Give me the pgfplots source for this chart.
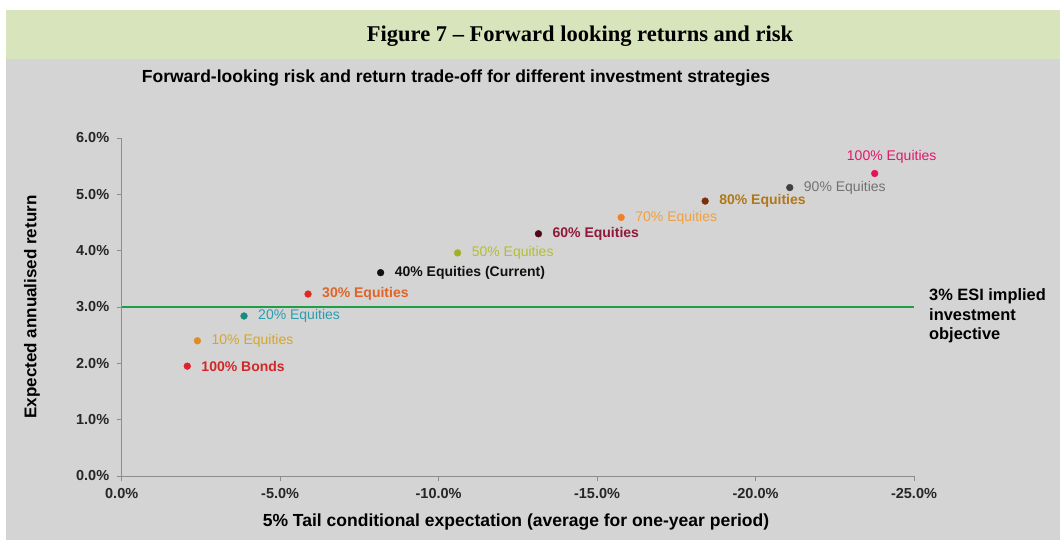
\documentclass[border=0pt]{standalone}
\usepackage{pgfplots}
\pgfplotsset{compat=1.18}
\usepackage{fontspec}
\setmainfont{Liberation Serif}
\setsansfont{Liberation Sans}
\definecolor{titlegreen}{HTML}{D8E4BC}
\definecolor{panelgrey}{HTML}{D4D4D4}
\definecolor{axisgrey}{HTML}{8C8C8C}
\definecolor{esigreen}{HTML}{1E9E46}
\definecolor{dBonds}{HTML}{E0202A}\definecolor{lBonds}{HTML}{D02828}
\definecolor{dTen}{HTML}{E08C20}\definecolor{lTen}{HTML}{D4A62A}
\definecolor{dTwenty}{HTML}{1A8A80}\definecolor{lTwenty}{HTML}{2A9EB0}
\definecolor{dThirty}{HTML}{E02A20}\definecolor{lThirty}{HTML}{E06428}
\definecolor{dForty}{HTML}{101010}\definecolor{lForty}{HTML}{101010}
\definecolor{dFifty}{HTML}{A0B020}\definecolor{lFifty}{HTML}{B4BE34}
\definecolor{dSixty}{HTML}{500818}\definecolor{lSixty}{HTML}{901838}
\definecolor{dSeventy}{HTML}{F08028}\definecolor{lSeventy}{HTML}{F0A040}
\definecolor{dEighty}{HTML}{7A3008}\definecolor{lEighty}{HTML}{B07818}
\definecolor{dNinety}{HTML}{404040}\definecolor{lNinety}{HTML}{727272}
\definecolor{dHundred}{HTML}{E8105A}\definecolor{lHundred}{HTML}{E0186A}
\newcommand{\lblfont}{\sffamily\fontsize{14}{16}\selectfont}
\pgfplotsset{
  pt/.style n args={3}{only marks, mark=*, mark size=3.4pt, color=#1,
    nodes near coords={#3},
    every node near coord/.style={anchor=west, inner sep=0pt, xshift=14pt, text=#2, font=\lblfont}},
}
\begin{document}
\begin{tikzpicture}
\path[use as bounding box] (0pt,0pt) rectangle (1060pt,540pt);
\fill[white] (0pt,0pt) rectangle (1060pt,540pt);
\fill[panelgrey] (6pt,0pt) rectangle (1060pt,481pt);
\fill[titlegreen] (6pt,481pt) rectangle (1060pt,530pt);
\node[font=\rmfamily\bfseries\fontsize{22.5}{26}\selectfont] at (580pt,504pt) {Figure 7 – Forward looking returns and risk};
\node[font=\sffamily\bfseries\fontsize{17.5}{20}\selectfont] at (456pt,462pt) {Forward-looking risk and return trade-off for different investment strategies};
\node[font=\sffamily\bfseries\fontsize{17.5}{20}\selectfont] at (516pt,18pt) {5\% Tail conditional expectation (average for one-year period)};
\node[rotate=90, font=\sffamily\bfseries\fontsize{17}{20}\selectfont] at (32pt,233pt) {Expected annualised return};
\begin{axis}[
  at={(121.7pt,64pt)}, anchor=south west,
  scale only axis, width=792.3pt, height=338pt,
  xmin=-25, xmax=0, x dir=reverse, ymin=0, ymax=6,
  axis x line*=bottom, axis y line*=left,
  axis line style={axisgrey, line width=0.8pt, -},
  tick style={axisgrey, line width=0.7pt},
  major tick length=5pt, tick align=outside,
  xtick={0,-5,-10,-15,-20,-25},
  xticklabels={0.0\%,-5.0\%,-10.0\%,-15.0\%,-20.0\%,-25.0\%},
  ytick={0,1,2,3,4,5,6},
  yticklabels={0.0\%,1.0\%,2.0\%,3.0\%,4.0\%,5.0\%,6.0\%},
  ticklabel style={font=\sffamily\bfseries\fontsize{14.5}{16}\selectfont, text=black!85},
  yticklabel style={xshift=-4pt},
  xticklabel style={yshift=-4pt},
  clip=false,
]
\addplot[esigreen, line width=2.6pt] coordinates {(0,3) (-25,3)};
\addplot[pt={dBonds}{lBonds}{\textbf{100\% Bonds}}] coordinates {(-2.07,1.95)};
\addplot[pt={dTen}{lTen}{10\% Equities}] coordinates {(-2.39,2.40)};
\addplot[pt={dTwenty}{lTwenty}{20\% Equities}] coordinates {(-3.86,2.84)};
\addplot[pt={dThirty}{lThirty}{\textbf{30\% Equities}}] coordinates {(-5.88,3.23)};
\addplot[pt={dForty}{lForty}{\textbf{40\% Equities (Current)}}] coordinates {(-8.17,3.61)};
\addplot[pt={dFifty}{lFifty}{50\% Equities}] coordinates {(-10.60,3.96)};
\addplot[pt={dSixty}{lSixty}{\textbf{60\% Equities}}] coordinates {(-13.15,4.30)};
\addplot[pt={dSeventy}{lSeventy}{70\% Equities}] coordinates {(-15.76,4.59)};
\addplot[pt={dEighty}{lEighty}{\textbf{80\% Equities}}] coordinates {(-18.41,4.88)};
\addplot[pt={dNinety}{lNinety}{90\% Equities}] coordinates {(-21.08,5.12)};
\addplot[only marks, mark=*, mark size=3.4pt, color=dHundred,
  nodes near coords={100\% Equities},
  every node near coord/.style={anchor=south, inner sep=0pt, xshift=17pt, yshift=10pt, text=lHundred, font=\lblfont}]
  coordinates {(-23.76,5.37)};
\node[anchor=west, align=left, inner sep=0pt, xshift=15pt, yshift=-9pt,
  font=\sffamily\bfseries\fontsize{16.4}{19.5}\selectfont] at (axis cs:-25,3)
  {3\% ESI implied\\investment\\objective};
\end{axis}
\end{tikzpicture}
\end{document}
